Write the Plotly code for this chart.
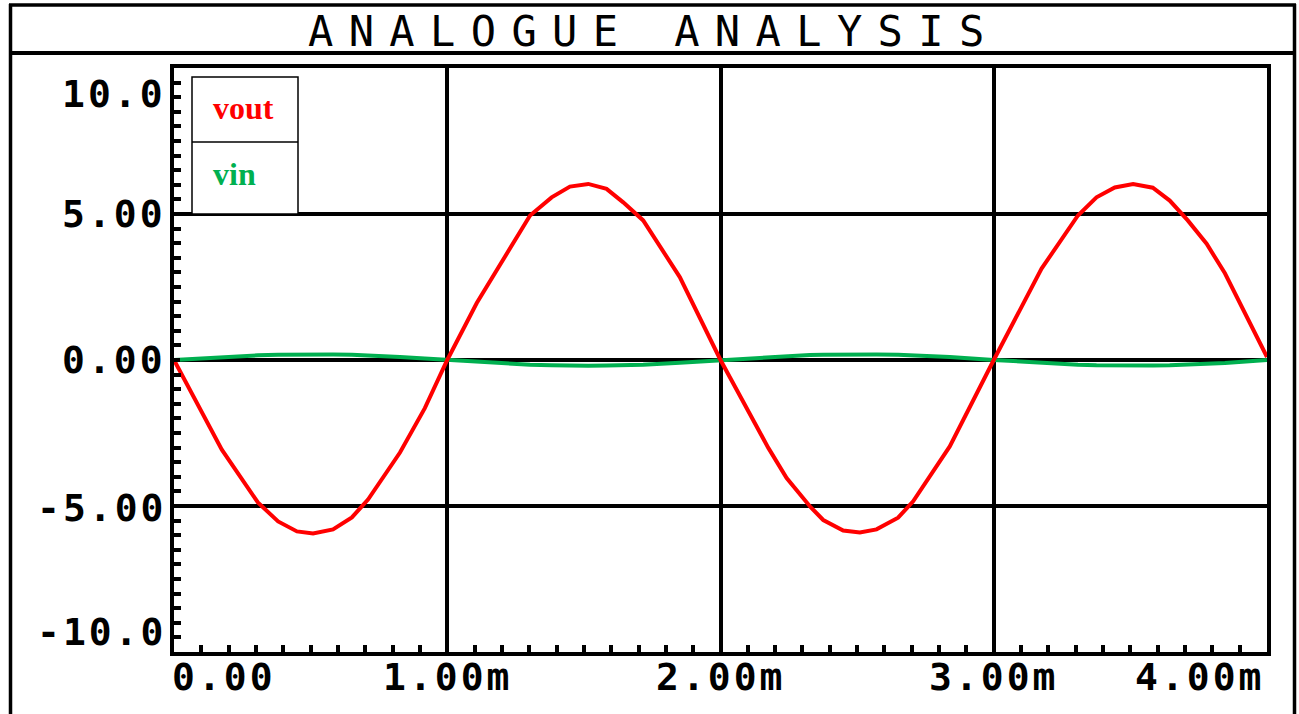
import plotly.graph_objects as go

# ---------------- data ----------------
time_ms = [0.0, 0.175, 0.307, 0.381, 0.45, 0.509, 0.582, 0.651, 0.71, 0.827, 0.918, 1.0,
           1.108, 1.303, 1.382, 1.449, 1.516, 1.583, 1.644, 1.717, 1.851, 2.0,
           2.175, 2.242, 2.327, 2.376, 2.449, 2.510, 2.571, 2.650, 2.705, 2.839, 3.0,
           3.175, 3.308, 3.376, 3.443, 3.510, 3.582, 3.644, 3.710, 3.779, 3.846, 3.974, 4.0]
vout = [0.0, -3.07, -4.88, -5.53, -5.87, -5.94, -5.80, -5.39, -4.78, -3.17, -1.65, 0.0,
        1.95, 4.95, 5.57, 5.94, 6.03, 5.86, 5.40, 4.78, 2.84, 0.0,
        -3.01, -4.04, -5.01, -5.48, -5.84, -5.91, -5.80, -5.40, -4.84, -2.96, 0.0,
        3.13, 4.95, 5.57, 5.91, 6.03, 5.90, 5.46, 4.78, 3.98, 2.97, 0.58, 0.10]
vin = [0.0, 0.10, 0.16, 0.18, 0.19, 0.20, 0.19, 0.18, 0.16, 0.10, 0.05, 0.0,
       -0.07, -0.16, -0.18, -0.20, -0.20, -0.19, -0.18, -0.16, -0.09, 0.0,
       0.10, 0.13, 0.17, 0.18, 0.19, 0.20, 0.19, 0.18, 0.16, 0.10, 0.0,
       -0.10, -0.16, -0.18, -0.19, -0.20, -0.19, -0.18, -0.16, -0.13, -0.10, -0.02, 0.0]

x_tick_vals = [0, 1, 2, 3, 4]
x_tick_text = ["0.00", "1.00m", "2.00m", "3.00m", "4.00m"]
y_tick_vals = [10, 5, 0, -5, -10]
y_tick_text = ["10.0", "5.00", "0.00", "-5.00", "-10.0"]
title_text = "ANALOGUE ANALYSIS"
series_names = ["vout", "vin"]
series_colors = ["#ff0000", "#00b050"]

# ---------------- layout geometry ----------------
W, H = 1299, 714
L, R, T, B = 174, 32, 68, 62
PW, PH = W - L - R, H - T - B


def px(x):
    return (x - L) / PW


def py(y):
    return (H - B - y) / PH


fig = go.Figure()
fig.add_trace(go.Scatter(x=time_ms, y=vin, mode="lines", name=series_names[1],
                         line=dict(color=series_colors[1], width=4), showlegend=False))
fig.add_trace(go.Scatter(x=time_ms, y=vout, mode="lines", name=series_names[0],
                         line=dict(color=series_colors[0], width=4), showlegend=False))

axis_common = dict(showgrid=True, gridcolor="black", gridwidth=3.5, zeroline=False,
                   showline=True, linecolor="black", linewidth=4, mirror=True,
                   showticklabels=False, ticks="inside", ticklen=6, tickwidth=4,
                   tickcolor="black")
fig.update_xaxes(range=[0, 4], tick0=0, dtick=1,
                 minor=dict(tick0=0, dtick=0.1, ticks="inside", ticklen=7, tickwidth=4,
                            tickcolor="black", showgrid=False),
                 **axis_common)
fig.update_yaxes(range=[-10, 10], tick0=0, dtick=5,
                 minor=dict(tick0=0, dtick=0.5, ticks="inside", ticklen=7, tickwidth=4,
                            tickcolor="black", showgrid=False),
                 **axis_common)

shapes = []
def hline(x0, x1, y, w):
    shapes.append(dict(type="line", xref="paper", yref="paper", x0=px(x0), x1=px(x1),
                       y0=py(y), y1=py(y), line=dict(color="black", width=w)))
def vline(x, y0, y1, w):
    shapes.append(dict(type="line", xref="paper", yref="paper", x0=px(x), x1=px(x),
                       y0=py(y0), y1=py(y1), line=dict(color="black", width=w)))

hline(9, 1296, 5, 3.5)
hline(9, 1296, 53, 4)
vline(10.5, 4, 716, 3.5)
vline(1294.5, 4, 716, 3.5)
# legend box
shapes.append(dict(type="rect", xref="paper", yref="paper", x0=px(192), x1=px(298),
                   y0=py(214), y1=py(77), line=dict(color="black", width=1.5),
                   fillcolor="white", layer="above"))
hline(192, 298, 142, 1.5)

annotations = []
mono = "DejaVu Sans Mono"
annotations.append(dict(xref="paper", yref="paper", x=px(306), y=py(32), xanchor="left",
                        yanchor="middle", showarrow=False,
                        text='<span style="letter-spacing:15.4px">' + title_text + '</span>',
                        font=dict(family=mono, size=42, color="black")))

y_label_pos = [94, 214, 360, 508, 632]
for v, t, ypix in zip(y_tick_vals, y_tick_text, y_label_pos):
    annotations.append(dict(xref="paper", yref="paper", x=px(168), y=py(ypix),
                            xanchor="right", yanchor="middle", showarrow=False,
                            text='<span style="letter-spacing:3px"><b>' + t + '</b></span>',
                            font=dict(family=mono, size=38, color="black")))

x_label_cfg = [(170, "left"), (447, "center"), (720, "center"), (993, "center"), (1266, "right")]
for v, t, (xpix, anc) in zip(x_tick_vals, x_tick_text, x_label_cfg):
    annotations.append(dict(xref="paper", yref="paper", x=px(xpix), y=py(677),
                            xanchor=anc, yanchor="middle", showarrow=False,
                            text='<span style="letter-spacing:3px"><b>' + t + '</b></span>',
                            font=dict(family=mono, size=38, color="black")))

annotations.append(dict(xref="paper", yref="paper", x=px(211), y=py(108), xanchor="left",
                        yanchor="middle", showarrow=False, text="<b>" + series_names[0] + "</b>",
                        font=dict(family="Liberation Serif", size=32, color=series_colors[0])))
annotations.append(dict(xref="paper", yref="paper", x=px(211), y=py(174), xanchor="left",
                        yanchor="middle", showarrow=False, text="<b>" + series_names[1] + "</b>",
                        font=dict(family="Liberation Serif", size=32, color=series_colors[1])))

fig.update_layout(width=W, height=H, margin=dict(l=L, r=R, t=T, b=B, pad=0),
                  paper_bgcolor="white", plot_bgcolor="white", showlegend=False,
                  shapes=shapes, annotations=annotations)

fig.write_html("out.html", config={"displayModeBar": False},
               post_script="document.body.style.margin='0';document.body.style.overflow='hidden';")
